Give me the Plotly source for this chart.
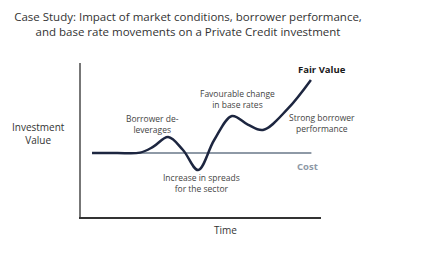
import plotly.graph_objects as go

# Fair value path (time, value) key points
fv_time = [4.6, 15, 24.6, 30, 36.3, 42.5, 48.8, 55.5, 62.9, 69.5, 75.8, 86, 95.8]
fv_value = [41.6, 41.6, 41.8, 45.5, 51.9, 43.5, 30.5, 50.0, 65.6, 60.0, 56.5, 70.0, 89.0]
cost_time = [4.6, 96]
cost_value = [41.6, 41.6]

title_text = ("Case Study: Impact of market conditions, borrower performance,<br>"
              "and base rate movements on a Private Credit investment")

# label text, paper x, paper y
labels = [
    ("Favourable change<br>in base rates", 0.65, 0.766),
    ("Borrower de-<br>leverages", 0.296, 0.607),
    ("Increase in spreads<br>for the sector", 0.504, 0.221),
    ("Strong borrower<br>performance", 1.004, 0.610),
]

FONT = "Open Sans"

fig = go.Figure()
fig.add_trace(go.Scatter(x=cost_time, y=cost_value, mode="lines",
                         line=dict(color="#8e99a6", width=2), hoverinfo="skip"))
fig.add_trace(go.Scatter(x=fv_time, y=fv_value, mode="lines",
                         line=dict(color="#1d2640", width=2.5, shape="spline", smoothing=1.0),
                         hoverinfo="skip"))

common = dict(xref="paper", yref="paper", showarrow=False, align="center",
              xanchor="center", yanchor="middle")
annotations = []
for txt, x, y in labels:
    annotations.append(dict(text=txt, x=x, y=y,
                            font=dict(family=FONT, size=8.5, color="#444444"), **common))
annotations.append(dict(text="<b>Fair Value</b>", x=1.004, y=0.961,
                        font=dict(family=FONT, size=9.5, color="#1a1a1a"), **common))
annotations.append(dict(text="<b>Cost</b>", x=0.942, y=0.331,
                        font=dict(family=FONT, size=9.5, color="#8e99a6"), **common))
annotations.append(dict(text="Investment<br>Value", x=-0.179, y=0.545,
                        font=dict(family=FONT, size=10, color="#333333"), **common))
annotations.append(dict(text="Time", x=0.6, y=-0.084,
                        font=dict(family=FONT, size=10, color="#333333"), **common))

fig.update_layout(
    width=426, height=261,
    margin=dict(l=81, r=105, t=63, b=44, autoexpand=False),
    paper_bgcolor="white", plot_bgcolor="white",
    showlegend=False,
    title=dict(text=title_text, x=188/426, xanchor="center", xref="container",
               y=1-21/261, yanchor="middle", yref="container",
               font=dict(family=FONT, size=11.5, color="#333333")),
    annotations=annotations,
    xaxis=dict(range=[0, 100], showgrid=False, zeroline=False, showticklabels=False,
               ticks="", showline=True, linecolor="#333333", linewidth=1.5, fixedrange=True),
    yaxis=dict(range=[0, 100], showgrid=False, zeroline=False, showticklabels=False,
               ticks="", showline=True, linecolor="#777777", linewidth=1.5, fixedrange=True),
)
fig.write_html("out.html")
